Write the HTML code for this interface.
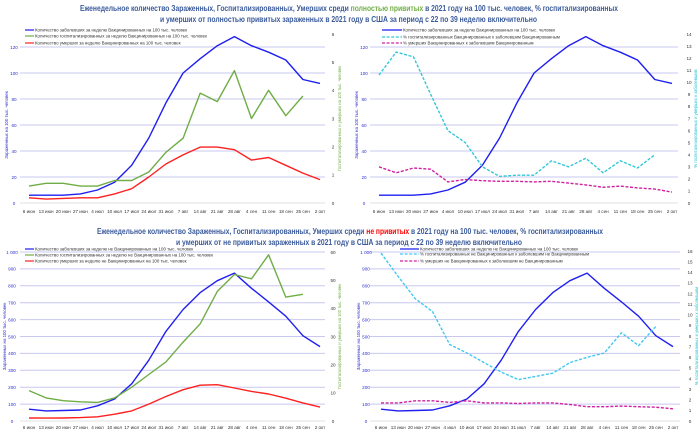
<!DOCTYPE html>
<html><head><meta charset="utf-8"><style>
html,body{margin:0;padding:0;background:#fff;width:700px;height:434px;overflow:hidden}
svg{display:block;font-family:"Liberation Sans",sans-serif}
</style></head><body>
<svg id="s" width="700" height="434" viewBox="0 0 700 434" xmlns="http://www.w3.org/2000/svg">
<g font-weight="bold" font-size="8.2" fill="#3a5a9a" text-anchor="start">
<text x="80" y="11" textLength="538" lengthAdjust="spacingAndGlyphs">Еженедельное количество Зараженных, Госпитализированных, Умерших среди <tspan fill="#70ad47">полностью привитых</tspan> в 2021 году на 100 тыс. человек, % госпитализированных</text>
<text x="160" y="22" textLength="377" lengthAdjust="spacingAndGlyphs">и умерших от полностью привитых зараженных в 2021 году в США за период с 22 по 39 неделю включительно</text>
<text x="97" y="234" textLength="506" lengthAdjust="spacingAndGlyphs">Еженедельное количество Зараженных, Госпитализированных, Умерших среди <tspan fill="#ff0000">не привитых</tspan> в 2021 году на 100 тыс. человек, % госпитализированных</text>
<text x="176" y="245" textLength="346" lengthAdjust="spacingAndGlyphs">и умерших от не привитых зараженных в 2021 году в США за период с 22 по 39 неделю включительно</text>
</g>
</svg>
<script>
const S=document.getElementById('s');const NS='http://www.w3.org/2000/svg';
function el(t,a,txt){const e=document.createElementNS(NS,t);for(const k in a)e.setAttribute(k,a[k]);if(txt!=null)e.textContent=txt;S.appendChild(e);return e;}
const X=['6 июн','13 июн','20 июн','27 июн','4 июл','10 июл','17 июл','24 июл','31 июл','7 авг','14 авг','21 авг','28 авг','4 сен','11 сен','18 сен','25 сен','2 окт'];
function panel(p){
 const step=(p.x1-p.x0)/17;
 const yl=v=>p.y0-(p.y0-p.yt)*v/p.lmax;
 const yr=v=>p.y0-(p.y0-p.rt)*v/p.rmax;
 for(let v=0;v<=p.lmax;v+=p.lstep){const y=yl(v);
  if(v>0)el('line',{x1:p.gx0,x2:p.gx1,y1:y,y2:y,stroke:'#c8c8f0','stroke-width':1});
  el('text',{x:p.lx,y:y+1.8,'font-size':4.6,fill:'#3030d0','text-anchor':'middle'},p.lfmt?p.lfmt(v):v);}
 el('line',{x1:p.gx0,x2:p.gx1,y1:p.y0,y2:p.y0,stroke:'#d8d8d8','stroke-width':0.8});
 for(let v=0;v<=p.rmax;v+=1){if(p.rskip&&v%p.rskip)continue;el('text',{x:p.rx,y:yr(v)+1.8,'font-size':4.6,fill:'#333','text-anchor':'middle'},v);}
 X.forEach((t,i)=>el('text',{x:p.x0+i*step,y:p.xy,'font-size':4.6,fill:'#333','text-anchor':'middle'},t));
 el('text',{x:0,y:0,'font-size':4.4,fill:'#3030d0','text-anchor':'middle',transform:`translate(${p.lx-6},${(p.y0+p.yt)/2}) rotate(-90)`},'Зараженных на 100 тыс. человек');
 el('text',{x:0,y:0,'font-size':4.2,fill:p.rcol,'text-anchor':'middle',transform:`translate(${p.rx+8},${(p.y0+p.rt)/2}) rotate(-90)`},p.rtitle);
 p.series.forEach(s=>{const f=s.r?yr:yl;
  const pts=s.d.map((v,i)=>(p.x0+i*step).toFixed(1)+','+f(v).toFixed(1)).join(' ');
  const a={points:pts,fill:'none',stroke:s.c,'stroke-width':s.w||1.4,'stroke-linejoin':'round'};if(s.dash)a['stroke-dasharray']='3,1.6';el('polyline',a);});
 p.series.forEach((s,i)=>{const y=p.legy[i];const a={x1:p.legx,x2:p.legx+p.legw,y1:y,y2:y,stroke:s.c,'stroke-width':1.2};if(s.dash)a['stroke-dasharray']='3,1.6';el('line',a);
  el('text',{x:p.legx+p.legw+1,y:y+1.6,'font-size':4.4,fill:'#333'},s.n);});
}
const vc=[6,6,6,7,10,16,29,50,77,100,111,121,128,121,116,110,95,92];
const uc=[70,60,62,65,90,130,220,360,530,660,760,830,875,785,705,620,505,440];
const fmtK=v=>v>=1000?'1 000':v;
panel({x0:29,x1:320,gx0:20,gx1:325,y0:203,yt:47,lmax:120,lstep:20,rt:34,rmax:6,lx:14,rx:333,xy:213,rcol:'#70ad47',
 rtitle:'Госпитализированных и умерших на 100 тыс. человек',
 legx:25,legw:9,legy:[30,36,43],
 series:[{c:'#1f1ff0',d:vc,n:'Количество заболевших за неделю Вакцинированных на 100 тыс. человек'},
 {c:'#70ad47',r:1,d:[0.6,0.7,0.7,0.6,0.6,0.8,0.8,1.1,1.8,2.3,3.9,3.6,4.7,3.0,4.0,3.1,3.8],n:'Количество госпитализированных за неделю Вакцинированных на 100 тыс. человек'},
 {c:'#ff2020',d:[4,3,3.5,4,4,7,11,20,30,37,43,43,41,33,35,29,23,18],n:'Количество умерших за неделю Вакцинированных на 100 тыс. человек'}]});
panel({x0:379,x1:672,gx0:370,gx1:678,y0:203,yt:47,lmax:120,lstep:20,rt:34,rmax:14,lx:364,rx:689,xy:213,rcol:'#20c0d0',
 rtitle:'% госпитализированных и умерших к заболевшим',
 legx:382,legw:20,legy:[30,37,43],
 series:[{c:'#1f1ff0',d:vc,n:'Количество заболевших за неделю Вакцинированных на 100 тыс. человек'},
 {c:'#30c8d8',r:1,dash:1,d:[10.6,12.5,12.1,9,6,5,3,2.2,2.3,2.3,3.5,3,3.7,2.5,3.5,2.9,4],n:'% госпитализированных Вакцинированных к заболевшим Вакцинированным'},
 {c:'#d020a0',r:1,dash:1,d:[3,2.5,2.9,2.8,1.75,1.95,1.85,1.8,1.8,1.75,1.8,1.65,1.5,1.3,1.4,1.25,1.15,0.9],n:'% умерших Вакцинированных к заболевшим Вакцинированным'}]});
panel({x0:29,x1:320,gx0:20,gx1:325,y0:421,yt:252,lmax:1000,lstep:100,lfmt:fmtK,rt:252,rmax:60,rskip:10,lx:12,rx:333,xy:429,rcol:'#70ad47',
 rtitle:'Госпитализированных и умерших на 100 тыс. человек',
 legx:25,legw:9,legy:[249,255,261],
 series:[{c:'#1f1ff0',d:uc,n:'Количество заболевших за неделю не Вакцинированных на 100 тыс. человек'},
 {c:'#70ad47',r:1,d:[10.8,8.2,7.2,6.8,6.6,8.2,12,16.5,21,28,34.5,46,52,50.5,59,44,45],n:'Количество госпитализированных за неделю не Вакцинированных на 100 тыс. человек'},
 {c:'#ff2020',d:[18,17,18,20,25,40,60,100,145,185,212,215,195,175,160,135,107,82],n:'Количество умерших за неделю не Вакцинированных на 100 тыс. человек'}]});
panel({x0:381,x1:673,gx0:370,gx1:680,y0:421,yt:252,lmax:1000,lstep:100,lfmt:fmtK,rt:251,rmax:16,lx:366,rx:690,xy:429,rcol:'#20c0d0',
 rtitle:'% госпитализированных и умерших к заболевшим',
 legx:400,legw:19,legy:[249,254,261],
 series:[{c:'#1f1ff0',d:uc,n:'Количество заболевших за неделю не Вакцинированных на 100 тыс. человек'},
 {c:'#40c8f0',r:1,dash:1,d:[15.8,13.6,11.5,10.3,7.2,6.4,5.5,4.6,3.9,4.2,4.5,5.5,6,6.4,8.3,7.1,8.9],n:'% госпитализированных не Вакцинированных к заболевшим не Вакцинированным'},
 {c:'#d020a0',r:1,dash:1,d:[1.7,1.7,1.9,1.9,1.75,1.9,1.7,1.7,1.65,1.7,1.7,1.55,1.35,1.35,1.4,1.35,1.3,1.15],n:'% умерших не Вакцинированных к заболевшим не Вакцинированным'}]});
</script>
</body></html>
